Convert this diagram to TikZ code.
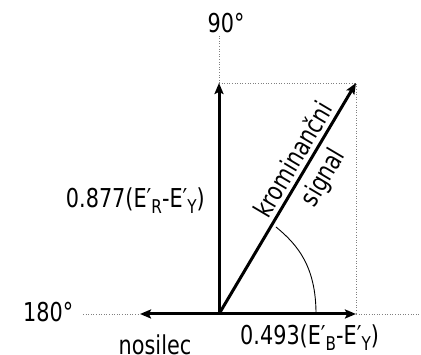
\documentclass[tikz,border=0pt]{standalone}
\usepackage{fontspec}
\setmainfont{DejaVu Sans}[FakeStretch=0.8]
\usetikzlibrary{arrows.meta}
\newcommand{\lowsub}[1]{\raisebox{-0.4ex}{\fontsize{19}{19}\selectfont #1}}
\tikzset{
  vec/.style={line width=3pt,-{Stealth[length=11pt,width=9pt,inset=2pt]}},
  guide/.style={gray,line width=0.6pt,dotted},
  lbl/.style={font=\fontsize{26}{30}\selectfont,inner sep=0pt},
  anglearc/.style={line width=0.9pt}
}
\begin{document}
\begin{tikzpicture}[x=1pt,y=1pt]
\useasboundingbox (0,0) rectangle (421,355);
\coordinate (O) at (219,41);
\coordinate (U) at (219,272);
\coordinate (R) at (356,41);
\coordinate (L) at (140,41);
\coordinate (D) at (356,272);
\coordinate (Utop) at (219,320);
\coordinate (Lend) at (83,41);
\coordinate (Rend) at (421,41);
\coordinate (A1) at (276,128);
\coordinate (A2) at (316,41);
% guides
\draw[guide] (U) -- (Utop);
\draw[guide] (U) -- (D) -- (R);
\draw[guide] (Lend) -- (L);
\draw[guide] (R) -- (Rend);
% angle arc
\draw[anglearc] (A1) .. controls (298,110) and (316,88) .. (A2);
% vectors
\draw[vec] (O) -- (U);
\draw[vec] (O) -- (R);
\draw[vec] (O) -- (L);
\draw[vec] (O) -- (D);
% labels
\node[lbl,anchor=base] (n90) at (226,322) {90°};
\node[lbl,anchor=base west] (n180) at (23,33) {180°};
\node[lbl,anchor=base east] (nr) at (205,147) {0.877(E′\lowsub{R}-E′\lowsub{Y})};
\node[lbl,anchor=base west] (nb) at (240,10) {0.493(E′\lowsub{B}-E′\lowsub{Y})};
\node[lbl,anchor=base] (nos) at (155,0) {nosilec};
\node[lbl,align=center,rotate=59.3,font=\fontsize{26}{34}\selectfont] (kr) at (309,186) {krominančni\\signal};
\end{tikzpicture}
\end{document}
